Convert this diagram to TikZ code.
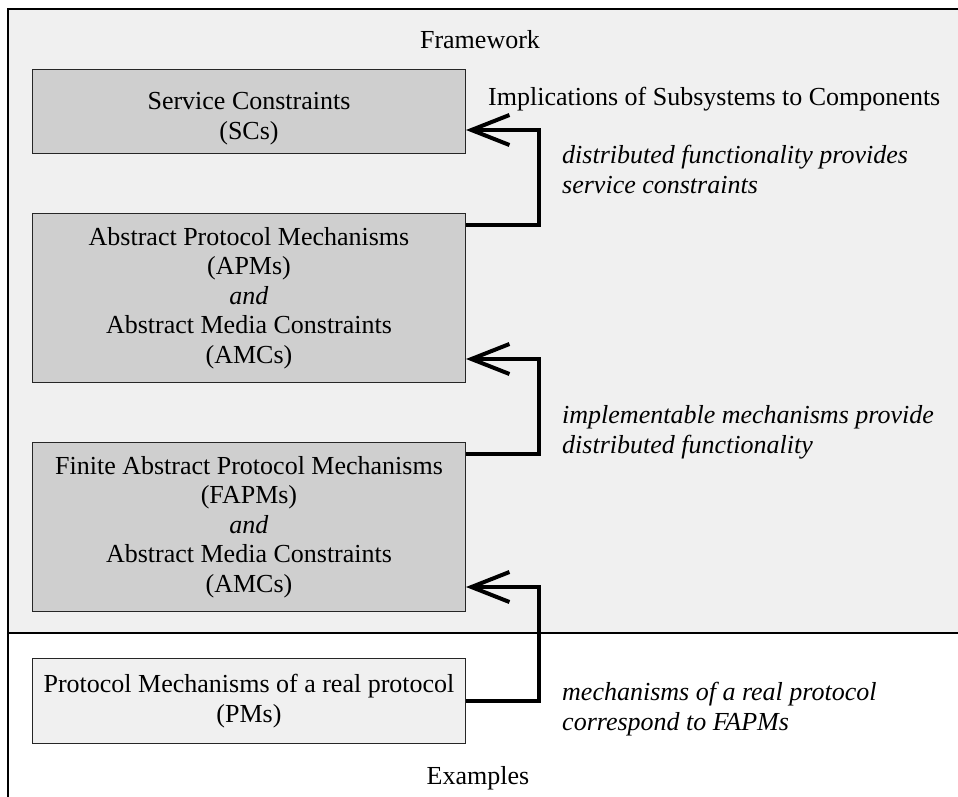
\documentclass[tikz,border=0pt]{standalone}
\usepackage{fontspec}
\setmainfont{Liberation Serif}
\usetikzlibrary{arrows.meta, positioning, calc}

\tikzset{
	compbox/.style={draw=black!85, line width=1pt, fill=gray!38, minimum width=433pt, align=center, inner sep=0pt, anchor=north west},
	realbox/.style={compbox, fill=gray!12},
	implarrow/.style={line width=4pt, arrows={-Straight Barb[length=38pt,width=30pt]}},
	notetext/.style={font=\fontsize{26}{30}\selectfont\itshape, align=left, anchor=north west, inner sep=0pt},
	areatitle/.style={inner sep=0pt},
}

\begin{document}
\begin{tikzpicture}[x=1pt, y=-1pt, font=\fontsize{26}{29.5}\selectfont]
	\useasboundingbox (0,0) rectangle (958,796);
	% framework and examples areas
	\fill[gray!12] (8,9) rectangle (962,633);
	\draw[line width=2.5pt] (8,800) -- (8,9) -- (962,9);
	\draw[line width=2pt] (8,633) -- (962,633);
	\node[areatitle] (framework) at (480,40) {Framework};
	\node[areatitle] (examples) at (478,778) {Examples};
	
	% boxes
	\node[compbox, minimum height=84pt] (sc) at (32,69) {\rule{0pt}{32pt}Service Constraints\\(SCs)};
	\node[compbox, minimum height=169pt] (apm) at (32,213) {Abstract Protocol Mechanisms\\(APMs)\\\textit{and}\\Abstract Media Constraints\\(AMCs)};
	\node[compbox, minimum height=169pt] (fapm) at (32,442) {Finite Abstract Protocol Mechanisms\\(FAPMs)\\\textit{and}\\Abstract Media Constraints\\(AMCs)};
	\node[realbox, minimum height=85pt] (pm) at (32,658) {Protocol Mechanisms of a real protocol\\(PMs)};
	
	\node[areatitle, anchor=west] (impl) at (488,99) {Implications of Subsystems to Components};
	
	% implication arrows
	\draw[implarrow] ([yshift=-12pt]apm.north east) -| ([xshift=73pt,yshift=24pt]sc.south east) -- ([yshift=24pt]sc.south east);
	\draw[implarrow] ([yshift=-12pt]fapm.north east) -| ([xshift=73pt,yshift=24pt]apm.south east) -- ([yshift=24pt]apm.south east);
	\draw[implarrow] (pm.east) -| ([xshift=73pt,yshift=25pt]fapm.south east) -- ([yshift=25pt]fapm.south east);
	
	\node[notetext] (note1) at (562,145) {distributed functionality provides\\service constraints};
	\node[notetext] (note2) at (562,405) {implementable mechanisms provide\\distributed functionality};
	\node[notetext] (note3) at (562,682) {mechanisms of a real protocol\\correspond to FAPMs};
\end{tikzpicture}
\end{document}
